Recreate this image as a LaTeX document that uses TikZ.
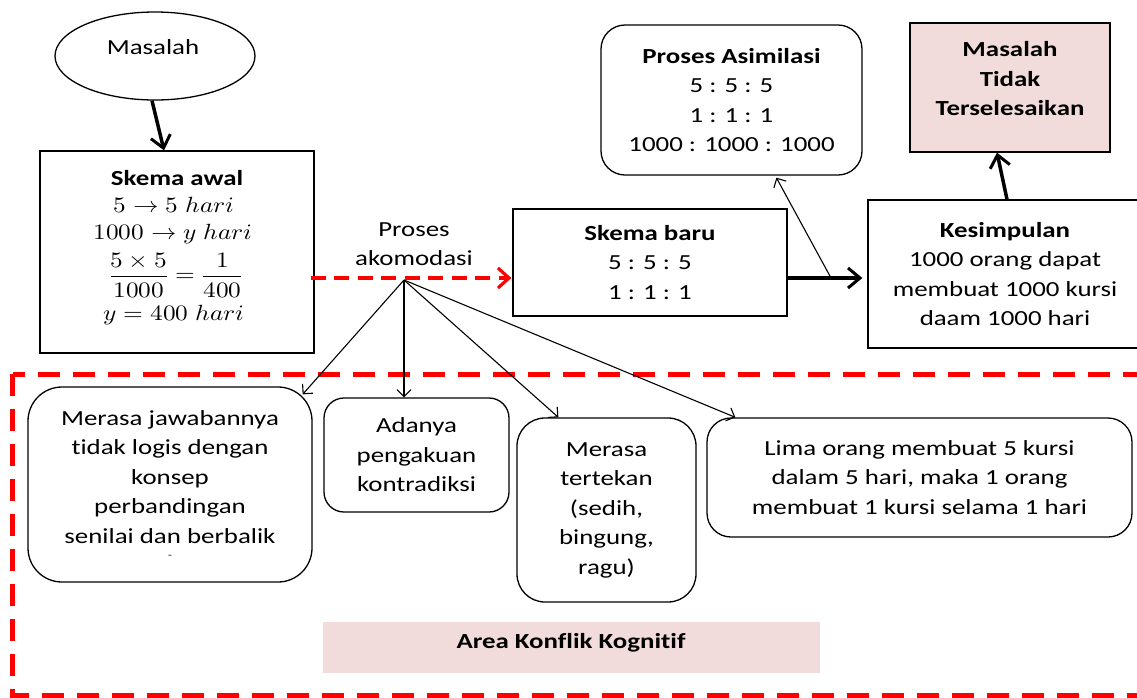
\documentclass[tikz,border=0pt]{standalone}
\usepackage{graphicx}
\usepackage{amsmath}
\usepackage{fontspec}
\usepackage{unicode-math}
\setmainfont{Carlito}[FakeStretch=1.25, Ligatures=NoCommon]
\setmathfont{Latin Modern Math}
\usetikzlibrary{shapes.geometric,arrows.meta,calc}
\definecolor{pinkc}{RGB}{242,220,219}
\newcommand\fs{\fontsize{21.5}{29.5}\selectfont}
\newcommand\mfs{\fontsize{22}{27}\selectfont}
\newcommand\mth[1]{\scalebox{1.15}[1]{$#1$}}
\tikzset{
  box/.style={draw, line width=1.3pt, inner sep=0pt, align=center, font=\fs},
  rbox/.style={box, rounded corners=#1},
  txt/.style={inner sep=0pt, align=center, font=\fs},
  mtxt/.style={inner sep=0pt, font=\mfs},
  thickarrow/.style={line width=3.5pt, -{Straight Barb[length=12pt,width=20pt,line width=3pt]}},
  thinarrow/.style={line width=1.1pt, -{Straight Barb[length=7pt,width=14pt,line width=1.1pt]}},
  redarrow/.style={line width=4pt, red, dash pattern=on 15pt off 8.5pt, -{Straight Barb[length=11pt,width=20pt,line width=3.2pt]}},
  reddash/.style={line width=5pt, red, dash pattern=on 22pt off 13pt}
}
\begin{document}
\begin{tikzpicture}[x=1pt,y=-1pt]
\useasboundingbox (0,0) rectangle (1137,697);
\clip (0,0) rectangle (1137,697);
\fill[white] (0,0) rectangle (1137,697);

% top row
\node[ellipse, draw, line width=1.3pt, minimum width=200pt, minimum height=88pt, inner sep=0pt] (mas) at (155,56) {};
\node[txt] (mastxt) at (153,47) {Masalah};

\node[box, minimum width=274pt, minimum height=202pt] (awal) at (177,252) {};
\node[txt, anchor=base] (aw1) at (177,185) {\textbf{Skema awal}};
\node[mtxt, anchor=base] (aw2) at (174,212) {\mth{5\to 5\ hari}};
\node[mtxt, anchor=base] (aw3) at (173,239) {\mth{1000\to y\ hari}};
\node[mtxt] (aw4) at (176,275) {\mth{\dfrac{5\times 5}{1000}=\dfrac{1}{400}}};
\node[mtxt, anchor=base] (aw5) at (174,320) {\mth{y=400\ hari}};

\node[txt] (ako) at (414,244) {Proses\\akomodasi};

\node[box, minimum width=274pt, minimum height=107pt] (baru) at (650,262.5)
  {\textbf{Skema baru}\\5 : 5 : 5\\1 : 1 : 1};

\node[rbox=24pt, minimum width=261pt, minimum height=150pt] (asim) at (731.5,100)
  {\textbf{Proses Asimilasi}\\5 : 5 : 5\\1 : 1 : 1\\1000 : 1000 : 1000};

\node[box, fill=pinkc, minimum width=200pt, minimum height=129pt] (mt) at (1010,87.5) {};
\node[txt] (mttxt) at (1010,79) {\textbf{Masalah}\\\textbf{Tidak}\\\textbf{Terselesaikan}};

\node[box, minimum width=274pt, minimum height=148pt] (kes) at (1005,274)
  {\textbf{Kesimpulan}\\1000 orang dapat\\membuat 1000 kursi\\daam 1000 hari};

% conflict area
\draw[reddash] (12.5,374) rectangle (1150,695);
\node[fill=pinkc, minimum width=497pt, minimum height=51pt, inner sep=0pt] (area) at (571.5,647.5) {};
\node[txt] (areatxt) at (571,643) {\textbf{Area Konflik Kognitif}};

\node[rbox=34pt, minimum width=284pt, minimum height=195pt] (jaw) at (170,484.5)
  {Merasa jawabannya\\tidak logis dengan\\konsep\\perbandingan\\senilai dan berbalik\\[-14pt]{\fontsize{10}{10}\selectfont -}};
\node[rbox=20pt, minimum width=185pt, minimum height=114pt] (ada) at (416.5,455)
  {Adanya\\pengakuan\\kontradiksi};
\node[rbox=28pt, minimum width=179pt, minimum height=184pt] (tek) at (606.5,510)
  {Merasa\\tertekan\\(sedih,\\bingung,\\ragu)};
\node[rbox=24pt, minimum width=425pt, minimum height=119pt] (lima) at (919.5,477.5)
  {Lima orang membuat 5 kursi\\dalam 5 hari, maka 1 orang\\membuat 1 kursi selama 1 hari};

% connectors
\coordinate (fan) at (404,280);
\coordinate (br) at (831,278);
\draw[thickarrow] ($(mas.south)+(-3,0)$) -- ($(awal.north)+(-13,0)$);
\draw[redarrow] ($(awal.east |- br)+(-4,0)$) -- ($(baru.west |- br)+(-1,0)$);
\draw[thickarrow] (baru.east |- br) -- ($(kes.west |- br)+(-5,0)$);
\draw[thinarrow] (br) -- ($(asim.south west)+(176,2)$);
\draw[thickarrow] ($(kes.north)+(2,0)$) -- ($(mt.south)+(-13,0)$);
\draw[thinarrow] (fan) -- ($(jaw.north east)+(-10,8)$);
\draw[thinarrow] (fan) -- (fan |- ada.north);
\draw[thinarrow] (fan) -- ($(tek.north west)+(42,0)$);
\draw[thinarrow] (fan) -- ($(lima.north west)+(29,0)$);
\end{tikzpicture}
\end{document}
